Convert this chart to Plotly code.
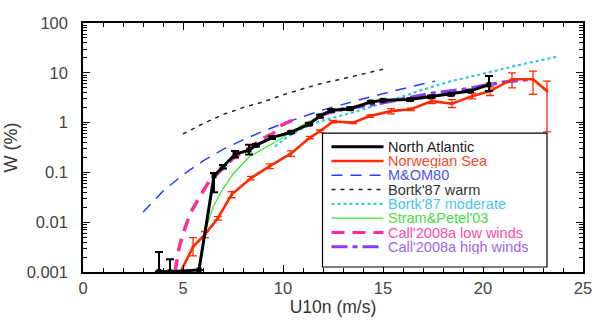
import plotly.graph_objects as go

# ---------------- data ----------------
na_u = [3.8, 4.35, 5.8, 6.55, 7.0, 7.6, 8.3, 8.65, 9.45, 10.4, 11.3, 11.85, 12.4, 13.35, 14.4, 15.0, 16.35, 17.4, 18.4, 19.35, 20.3]
na_w = [0.00102, 0.00101, 0.0011, 0.085, 0.13, 0.23, 0.28, 0.35, 0.5, 0.64, 0.93, 1.35, 1.75, 1.9, 2.6, 2.8, 2.9, 3.3, 3.7, 4.3, 5.8]
na_ep = [0.0015, 0.0008, 0.0, 0.012, 0.01, 0.04, 0.08, 0.02, 0.03, 0.03, 0.05, 0.08, 0.1, 0.1, 0.12, 0.12, 0.15, 0.15, 0.2, 0.2, 2.8]
na_em = [0.0, 0.0, 0.0, 0.045, 0.01, 0.03, 0.05, 0.02, 0.03, 0.03, 0.05, 0.08, 0.1, 0.1, 0.12, 0.12, 0.15, 0.15, 0.2, 0.2, 1.5]

ns_u = [4.85, 5.5, 6.1, 6.74, 7.43, 8.4, 9.34, 10.4, 11.35, 11.85, 12.5, 13.5, 14.35, 15.4, 16.4, 17.45, 18.45, 19.45, 20.35, 21.45, 22.5, 23.2]
ns_w = [0.00095, 0.0032, 0.0057, 0.012, 0.036, 0.077, 0.134, 0.24, 0.5, 0.67, 1.05, 1.0, 1.35, 1.7, 1.85, 2.7, 2.4, 3.4, 4.3, 7.4, 7.4, 4.3]
ns_ep = [0.0, 0.0017, 0.0008, 0.001, 0.005, 0.006, 0.015, 0.03, 0.03, 0.04, 0.06, 0.05, 0.08, 0.2, 0.1, 0.35, 0.5, 0.5, 0.9, 2.6, 3.4, 2.5]
ns_em = [0.0, 0.0011, 0.0008, 0.001, 0.005, 0.006, 0.015, 0.03, 0.03, 0.04, 0.06, 0.05, 0.08, 0.2, 0.1, 0.3, 0.4, 0.4, 0.8, 2.4, 3.7, 3.65]

mom_u = [3.0, 4.0, 5.0, 6.0, 7.0, 8.0, 9.0, 10.0, 12.0, 14.0, 16.0, 17.6]
mom_w = [0.0158, 0.042, 0.09, 0.17, 0.29, 0.45, 0.67, 0.96, 1.8, 3.0, 4.8, 6.8]

bw_u = [5.0, 6.0, 7.0, 8.0, 9.0, 10.0, 11.0, 12.0, 13.0, 14.0, 15.0]
bw_w = [0.59, 0.95, 1.45, 2.0, 2.6, 3.6, 4.8, 6.2, 7.6, 9.5, 11.8]

bm_u = [9.6, 10.0, 10.5, 11.0, 11.85, 12.7, 13.5, 15.2, 16.85, 18.4, 20.0, 21.5, 23.8]
bm_w = [0.33, 0.45, 0.6, 0.78, 1.07, 1.3, 1.6, 2.6, 4.4, 6.8, 9.5, 13.5, 21.5]

sp_u = [5.75, 5.9, 6.09, 6.5, 6.93, 7.5, 8.34, 9.0, 9.68, 10.4, 11.18, 12.25, 13.0]
sp_w = [0.001, 0.0025, 0.0061, 0.02, 0.042, 0.093, 0.21, 0.3, 0.42, 0.65, 1.0, 1.55, 2.0]

cl_u = [4.6, 4.8, 5.0, 5.34, 5.84, 6.35, 7.0, 7.5, 8.25, 8.85, 9.5, 9.95, 10.6]
cl_w = [0.001, 0.003, 0.0058, 0.0144, 0.033, 0.07, 0.12, 0.19, 0.29, 0.45, 0.6, 0.9, 1.17]

ch_u = [11.8, 13.0, 14.5, 16.0, 17.5, 19.0, 20.0, 21.0, 22.5]
ch_w = [1.4, 1.85, 2.3, 3.0, 3.9, 4.6, 5.5, 6.5, 7.5]

names = ["North Atlantic", "Norwegian Sea", "M&OM80", "Bortk'87 warm",
         "Bortk'87 moderate", "Stram&Petel'03", "Call'2008a low winds", "Call'2008a high winds"]
colors = ["#000000", "#ff2a00", "#2a3cff", "#222222", "#2ec4f5", "#30ee30", "#ff2e96", "#8a3cf0"]
text_colors = ["#222222", "#ff4a2a", "#4a55ee", "#333333", "#4cc4f0", "#44e044", "#ff4aa8", "#9a66ee"]
widths = [3, 2.6, 1.5, 1.5, 2.2, 1.2, 3.5, 3.5]
dashes = ["solid", "solid", "11px,8px", "4px,5px", "3px,3px", "solid", "13px,8px", "16px,5px,5px,5px"]

fig = go.Figure()

def line(i):
    return dict(color=colors[i], width=widths[i], dash=dashes[i])

fig.add_trace(go.Scatter(x=mom_u, y=mom_w, mode="lines", name=names[2], line=line(2)))
fig.add_trace(go.Scatter(x=bw_u, y=bw_w, mode="lines", name=names[3], line=line(3)))
fig.add_trace(go.Scatter(x=bm_u, y=bm_w, mode="lines", name=names[4], line=line(4)))
fig.add_trace(go.Scatter(x=sp_u, y=sp_w, mode="lines", name=names[5], line=line(5)))
fig.add_trace(go.Scatter(x=cl_u, y=cl_w, mode="lines", name=names[6], line=line(6)))
fig.add_trace(go.Scatter(x=ch_u, y=ch_w, mode="lines", name=names[7], line=line(7)))
fig.add_trace(go.Scatter(x=ns_u, y=ns_w, mode="lines+markers", name=names[1], line=line(1),
                         marker=dict(size=3, color=colors[1]),
                         error_y=dict(type="data", symmetric=False, array=ns_ep, arrayminus=ns_em,
                                      color=colors[1], thickness=1.3, width=4)))
fig.add_trace(go.Scatter(x=na_u, y=na_w, mode="lines+markers", name=names[0], line=line(0),
                         marker=dict(size=5, symbol="square", color=colors[0]),
                         error_y=dict(type="data", symmetric=False, array=na_ep, arrayminus=na_em,
                                      color=colors[0], thickness=2, width=4)))

# ---- manual legend box (paper coordinates) ----
L, R, B, T = 0.479, 0.928, 0.02, 0.558
shapes = [dict(type="rect", xref="paper", yref="paper", x0=L, x1=R, y0=B, y1=T,
               fillcolor="white", line=dict(color="black", width=1.2), layer="above")]
annotations = []
row0 = 0.5035
step = 0.0575
for i in range(8):
    yy = row0 - i * step
    shapes.append(dict(type="line", xref="paper", yref="paper", x0=0.497, x1=0.601, y0=yy, y1=yy,
                       line=dict(color=colors[i], width=min(widths[i], 3), dash=dashes[i]), layer="above"))
    annotations.append(dict(xref="paper", yref="paper", x=0.607, y=yy, xanchor="left", yanchor="middle",
                            text=names[i], showarrow=False, height=14, borderpad=0,
                            font=dict(size=14.5, color=text_colors[i])))

font = "Arial, Liberation Sans, Helvetica, sans-serif"
fig.update_layout(
    width=594, height=321,
    margin=dict(l=83, r=11, t=23, b=49, autoexpand=False),
    paper_bgcolor="white", plot_bgcolor="white",
    font=dict(family=font, size=14, color="#333333"),
    showlegend=False,
    shapes=shapes, annotations=annotations,
)
fig.update_xaxes(range=[0, 25], dtick=5, tick0=0, showgrid=False, zeroline=False, automargin=False,
                 showline=True, linecolor="black", linewidth=1.5, mirror="ticks",
                 ticks="inside", ticklen=7, tickcolor="black", tickwidth=1.2,
                 minor=dict(dtick=1, ticks="inside", ticklen=4, tickcolor="black", showgrid=False),
                 tickfont=dict(size=16.5, color="#444444"),
                 title=dict(text="U10n (m/s)", font=dict(size=17.5, color="#333333"), standoff=3))
fig.update_yaxes(type="log", range=[-3, 2], dtick=1, showgrid=False, zeroline=False, automargin=False,
                 showline=True, linecolor="black", linewidth=1.5, mirror="ticks",
                 ticks="inside", ticklen=7, tickcolor="black", tickwidth=1.2,
                 minor=dict(dtick="D1", ticks="inside", ticklen=4, tickcolor="black", showgrid=False),
                 tickfont=dict(size=16.5, color="#444444"), ticklabelstandoff=10,
                 title=dict(text="W (%)", font=dict(size=18, color="#333333"), standoff=4))

page_fix = ("document.body.style.margin='0px';"
            "document.body.style.overflow='hidden';"
            "document.documentElement.style.overflow='hidden';")
fig.write_html("out.html", post_script=page_fix, config={"displayModeBar": False})
